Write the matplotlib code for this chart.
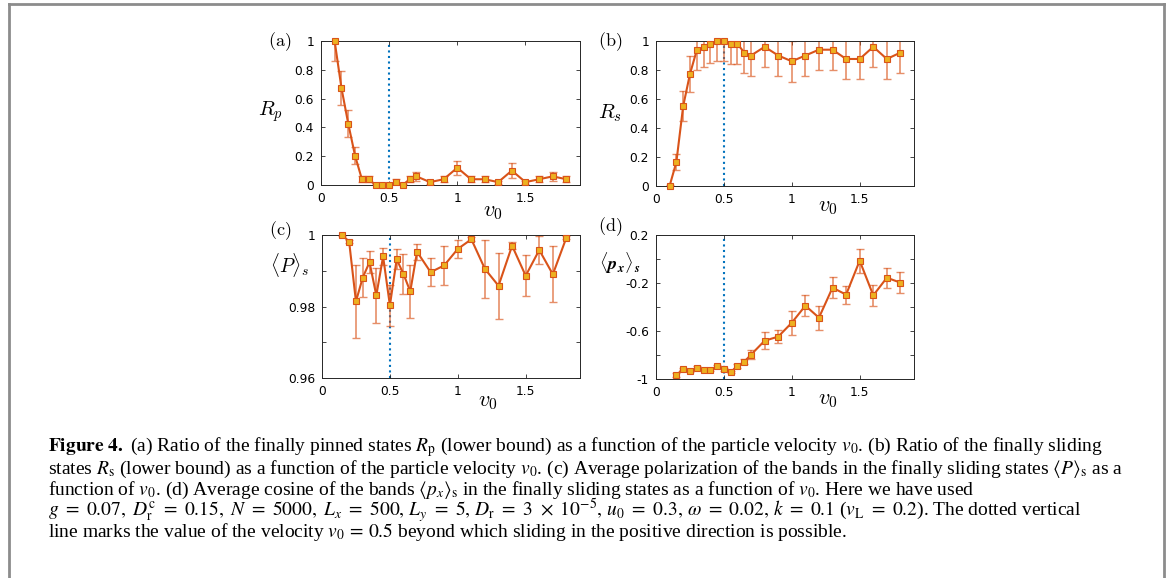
import numpy as np
import matplotlib
matplotlib.use("Agg")
import matplotlib.pyplot as plt

# colours (MATLAB default palette)
line_col = '#D95319'
face_col = '#EDB120'
vline_col = '#0072BD'

# common x values
v0 = [0.1, 0.15, 0.2, 0.25, 0.3, 0.35, 0.4, 0.45, 0.5, 0.55, 0.6, 0.65, 0.7,
      0.8, 0.9, 1.0, 1.1, 1.2, 1.3, 1.4, 1.5, 1.6, 1.7, 1.8]
v0_c = v0[1:]  # (c) and (d) start at 0.15

# (a) ratio of pinned states
Rp = [1.0, 0.674, 0.425, 0.203, 0.04, 0.04, 0.0, 0.0, 0.0, 0.02, 0.0, 0.04, 0.06,
      0.02, 0.04, 0.12, 0.04, 0.04, 0.02, 0.10, 0.02, 0.04, 0.06, 0.04]
Rp_err = [0.14, 0.12, 0.095, 0.06, 0.02, 0.02, 0.005, 0.005, 0.005, 0.02, 0.005, 0.02, 0.03,
          0.01, 0.02, 0.05, 0.02, 0.02, 0.01, 0.05, 0.01, 0.02, 0.03, 0.02]

# (b) ratio of sliding states
Rs = [0.0, 0.165, 0.55, 0.772, 0.936, 0.959, 0.98, 1.0, 1.0, 0.98, 0.98, 0.92, 0.9,
      0.96, 0.9, 0.86, 0.9, 0.94, 0.94, 0.876, 0.876, 0.96, 0.876, 0.92]
Rs_err = [0.005, 0.055, 0.105, 0.125, 0.135, 0.135, 0.13, 0.14, 0.14, 0.14, 0.14, 0.14, 0.14,
          0.14, 0.14, 0.14, 0.14, 0.14, 0.14, 0.14, 0.14, 0.14, 0.14, 0.14]

# (c) average polarization
P = [1.0, 0.9981, 0.9814, 0.9881, 0.9924, 0.9831, 0.9940, 0.9803, 0.9932, 0.9891, 0.9842,
     0.9953, 0.9896, 0.9915, 0.9961, 0.9988, 0.9905, 0.9858, 0.9970, 0.9886, 0.9958, 0.9890, 0.9993]
P_err = [0.0002, 0.0004, 0.0102, 0.0054, 0.0030, 0.0076, 0.0024, 0.0057, 0.0028, 0.0057, 0.0075,
         0.0023, 0.0039, 0.0055, 0.0026, 0.0006, 0.0080, 0.0093, 0.0010, 0.0057, 0.0040, 0.0078, 0.0003]

# (d) average cosine
px = [-0.967, -0.917, -0.933, -0.906, -0.925, -0.925, -0.894, -0.919, -0.942, -0.892, -0.856,
      -0.797, -0.681, -0.647, -0.531, -0.389, -0.489, -0.239, -0.297, -0.014, -0.303, -0.156, -0.197]
px_err = [0.015, 0.012, 0.012, 0.012, 0.012, 0.012, 0.012, 0.012, 0.012, 0.015, 0.02,
          0.035, 0.07, 0.055, 0.10, 0.085, 0.10, 0.09, 0.075, 0.10, 0.085, 0.085, 0.085]

x_ticks = [0, 0.5, 1, 1.5]
x_ticklabels = ['0', '0.5', '1', '1.5']
ab_ticks = [0, 0.2, 0.4, 0.6, 0.8, 1.0]
ab_ticklabels = ['0', '0.2', '0.4', '0.6', '0.8', '1']
c_ticks = [0.96, 0.97, 0.98, 0.99, 1.0]
c_ticklabels = ['0.96', '', '0.98', '', '1']
d_ticks = [-1.0, -0.8, -0.6, -0.4, -0.2, 0.0, 0.2]
d_ticklabels = ['-1', '', '-0.6', '', '-0.2', '', '0.2']

W, H = 1171, 578
fig = plt.figure(figsize=(W / 100, H / 100), dpi=100)


def px_box(left, top, right, bottom):
    return [left / W, 1 - bottom / H, (right - left) / W, (bottom - top) / H]


def panel(box, x, y, err, ylim, yticks, yticklabels):
    ax = fig.add_axes(box)
    ax.axvline(0.5, color=vline_col, ls=':', lw=1.5, zorder=1)
    ax.errorbar(x, y, yerr=err, fmt='none', ecolor=line_col, alpha=0.65,
                elinewidth=1.2, capsize=3, capthick=1.0, zorder=2)
    ax.plot(x, y, '-s', color=line_col, lw=1.5, ms=4.3, mfc=face_col,
            mec=line_col, mew=0.8, zorder=3, clip_on=False)
    ax.set_xlim(0, 1.9)
    ax.set_ylim(*ylim)
    ax.set_xticks(x_ticks)
    ax.set_xticklabels(x_ticklabels)
    ax.set_yticks(yticks)
    ax.set_yticklabels(yticklabels)
    ax.tick_params(direction='in', length=3, width=0.6, top=True, right=True,
                   labelsize=8.8, pad=5, colors='#262626', labelcolor='black')
    for s in ax.spines.values():
        s.set_linewidth(0.7)
        s.set_color('#262626')
    return ax


ax_a = panel(px_box(321, 41, 580, 185), v0, Rp, Rp_err, (0, 1), ab_ticks, ab_ticklabels)
ax_b = panel(px_box(656, 41, 914, 186), v0, Rs, Rs_err, (0, 1), ab_ticks, ab_ticklabels)
ax_c = panel(px_box(322, 235, 580, 378), v0_c, P, P_err, (0.96, 1.0), c_ticks, c_ticklabels)
ax_d = panel(px_box(656, 235, 914, 379), v0_c, px, px_err, (-1, 0.2), d_ticks, d_ticklabels)

# axis labels (MATLAB-ish placement)
xl_pos = [(ax_a, 0.664, -0.118), (ax_b, 0.667, -0.076), (ax_c, 0.643, -0.098), (ax_d, 0.667, -0.076)]
for ax, xx, yy in xl_pos:
    ax.set_xlabel(r'$v_0$', fontsize=16, math_fontfamily='cm')
    ax.xaxis.set_label_coords(xx, yy)

yl = [(ax_a, r'$R_p$', -0.197, 0.507, 15),
      (ax_b, r'$R_s$', -0.178, 0.504, 15),
      (ax_c, r'$\langle P\rangle_s$', -0.124, 0.79, 14),
      (ax_d, r'$\mathbf{\langle}\mathbfit{p}_\mathbfit{x}\mathbf{\rangle}_\mathbfit{s}$', -0.14, 0.806, 13)]
for ax, lab, xx, yy, fs in yl:
    ax.set_ylabel(lab, fontsize=fs, rotation=0, ha='center', va='center', math_fontfamily='cm')
    ax.yaxis.set_label_coords(xx, yy)

for lab, xx, yy in [('(a)', 280, 42), ('(b)', 610, 42), ('(c)', 280, 231), ('(d)', 610, 227)]:
    fig.text(xx / W, 1 - yy / H, r'$\mathrm{' + lab + '}$', fontsize=13,
             ha='center', va='center', math_fontfamily='cm')

# caption
caption = [
    r'$\mathbf{Figure\ 4.}$ (a) Ratio of the finally pinned states $R_\mathrm{p}$ (lower bound) as a function of the particle velocity $v_0$. (b) Ratio of the finally sliding',
    r'states $R_\mathrm{s}$ (lower bound) as a function of the particle velocity $v_0$. (c) Average polarization of the bands in the finally sliding states $\langle P\rangle_\mathrm{s}$ as a',
    r'function of $v_0$. (d) Average cosine of the bands $\langle p_x\rangle_\mathrm{s}$ in the finally sliding states as a function of $v_0$. Here we have used',
    r'$g\ =\ 0.07,\ D_\mathrm{r}^\mathrm{c}\ =\ 0.15,\ N\ =\ 5000,\ L_x\ =\ 500,\, L_y\ =\ 5,\, D_\mathrm{r}\ =\ 3\ \times\ 10^{-5},\, u_0\ =\ 0.3,\, \omega\ =\ 0.02,\, k\ =\ 0.1$ ($v_\mathrm{L}\ =\ 0.2$). The dotted vertical',
    r'line marks the value of the velocity $v_0\,=\,0.5$ beyond which sliding in the positive direction is possible.',
]
line_y = [447, 469, 490, 511, 532]
for txt, yy in zip(caption, line_y):
    fig.text(48 / W, 1 - yy / H, txt, fontsize=14, family='Liberation Serif',
             math_fontfamily='stix', ha='left', va='center')

# grey frame around the figure
frame_col = '#8c8c8c'
fig.add_artist(plt.Line2D([8.5 / W, 8.5 / W], [0, 1 - 3.5 / H], color=frame_col, lw=2,
                          transform=fig.transFigure))
fig.add_artist(plt.Line2D([8.5 / W, 1164 / W], [1 - 3.5 / H, 1 - 3.5 / H], color=frame_col, lw=2,
                          transform=fig.transFigure))
fig.add_artist(plt.Line2D([1164 / W, 1164 / W], [0, 1 - 3.5 / H], color=frame_col, lw=2,
                          transform=fig.transFigure))

fig.savefig('out.png', dpi=100)
